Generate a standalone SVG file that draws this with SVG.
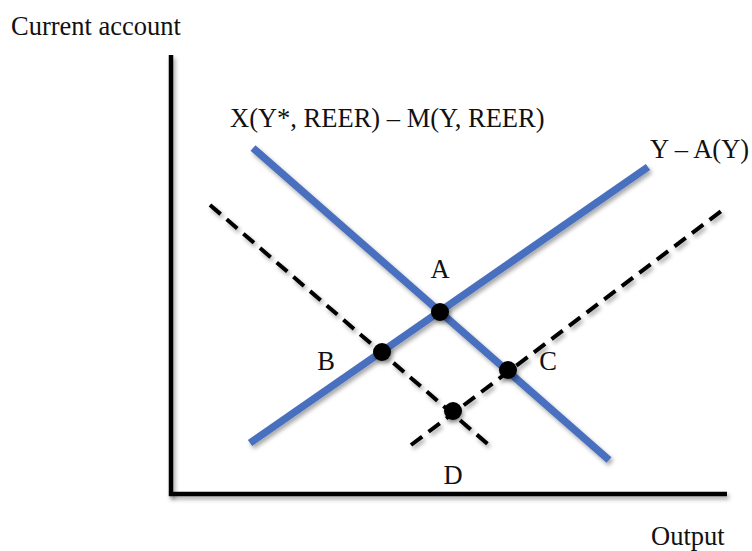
<svg xmlns="http://www.w3.org/2000/svg" width="752" height="551" viewBox="0 0 752 551">
  <defs>
    <filter id="sh" filterUnits="userSpaceOnUse" x="0" y="0" width="752" height="551">
      <feDropShadow dx="2" dy="3" stdDeviation="2" flood-color="#000" flood-opacity="0.35"/>
    </filter>
  </defs>
  <style>
    text { font-family: "Liberation Serif", "Times New Roman", serif; font-size: 26.5px; fill: #111; }
    .axis { stroke: #000; stroke-width: 4.5; fill: none; filter: url(#sh); }
    .blue { stroke: #4A6FBF; stroke-width: 7.5; fill: none; filter: url(#sh); }
    .dash { stroke: #000; stroke-width: 4; stroke-dasharray: 14 8; fill: none; filter: url(#sh); }
    .dot { fill: #000; filter: url(#sh); }
  </style>
  <rect width="752" height="551" fill="#fff"/>
  <g id="axes">
    <line class="axis" x1="171" y1="55" x2="171" y2="496"/>
    <line class="axis" x1="169" y1="494" x2="727" y2="494"/>
    <text x="11" y="35">Current account</text>
    <text x="651" y="545">Output</text>
  </g>
  <g id="connectors">
    <line class="dash" x1="210" y1="205" x2="490" y2="446"/>
    <line class="dash" x1="411" y1="445" x2="724" y2="209"/>
    <line class="blue" x1="253" y1="148" x2="609" y2="460"/>
    <line class="blue" x1="250" y1="443" x2="648" y2="167"/>
  </g>
  <g id="curve-labels">
    <text x="230" y="127">X(Y*, REER) – M(Y, REER)</text>
    <text x="650" y="158">Y – A(Y)</text>
  </g>
  <g id="point-A">
    <circle class="dot" cx="440" cy="312" r="9"/>
    <text x="440" y="278" text-anchor="middle">A</text>
  </g>
  <g id="point-B">
    <circle class="dot" cx="382" cy="352" r="9"/>
    <text x="326" y="370" text-anchor="middle">B</text>
  </g>
  <g id="point-C">
    <circle class="dot" cx="508" cy="370" r="9"/>
    <text x="548" y="370" text-anchor="middle">C</text>
  </g>
  <g id="point-D">
    <circle class="dot" cx="453" cy="411" r="9"/>
    <text x="453" y="484" text-anchor="middle">D</text>
  </g>
</svg>
